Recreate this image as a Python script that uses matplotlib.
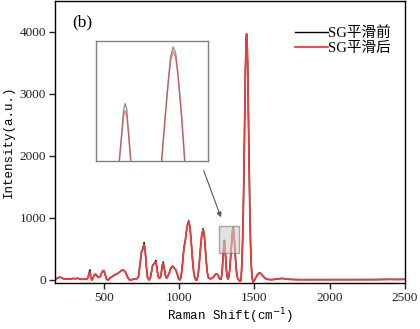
import matplotlib
matplotlib.use("Agg")
import matplotlib.pyplot as plt
from matplotlib.patches import Rectangle

# Raman shift (cm^-1) and SG-smoothed intensity
shift = [175, 190, 205, 220, 235, 250, 265, 280, 295, 310, 325, 340, 355, 370, 385,
         395, 400, 407, 413, 420, 428, 436, 444, 452, 460, 468, 476, 484, 492, 500,
         508, 516, 524, 532, 540, 550, 560, 570, 584, 595, 605, 615, 628, 640, 650,
         660, 672, 685, 700, 710, 720, 730, 740, 750, 758, 767, 775, 782, 790, 800,
         808, 816, 824, 832, 840, 845, 852, 860, 867, 875, 882, 888, 894, 900, 908,
         916, 925, 935, 945, 956, 965, 978, 988, 996, 1004, 1012, 1020, 1027, 1033, 1040,
         1048, 1056, 1064, 1072, 1080, 1088, 1096, 1104, 1112, 1118, 1126, 1134, 1142, 1150, 1159,
         1166, 1173, 1180, 1187, 1195, 1205, 1215, 1225, 1235, 1243, 1250, 1257, 1264, 1270, 1277,
         1282, 1286, 1290, 1293, 1296, 1298, 1300, 1302, 1304, 1307, 1310, 1314, 1318, 1322, 1325,
         1330, 1335, 1340, 1344, 1348, 1352, 1355, 1358, 1361, 1364, 1368, 1372, 1376, 1380, 1385,
         1390, 1395, 1402, 1408, 1412, 1416, 1420, 1425, 1430, 1435, 1440, 1445, 1448, 1450, 1455,
         1460, 1465, 1470, 1475, 1480, 1485, 1490, 1495, 1500, 1510, 1520, 1530, 1536, 1545, 1555,
         1565, 1575, 1590, 1610, 1630, 1650, 1670, 1685, 1700, 1720, 1750, 1800, 1900, 2000, 2100,
         2200, 2300, 2350, 2400, 2450, 2500]
smoothed = [5, 30, 45, 35, 15, 10, 20, 15, 25, 20, 28, 15, 10, 12, 10,
            40, 100, 130, 40, 0, 30, 80, 95, 70, 50, 40, 60, 110, 145, 150,
            90, 20, 0, 10, 30, 50, 60, 80, 95, 110, 130, 150, 160, 140, 90,
            30, 0, 5, 15, 20, 20, 60, 250, 456, 500, 575, 450, 220, 40, 0,
            30, 130, 240, 260, 285, 295, 200, 60, 25, 40, 130, 240, 270, 200, 80,
            30, 60, 120, 190, 225, 200, 160, 90, 20, 0, 40, 200, 400, 540, 620,
            780, 900, 940, 850, 620, 350, 140, 30, 0, 0, 80, 280, 520, 720, 817,
            740, 540, 300, 120, 30, 20, 25, 40, 70, 95, 100, 80, 40, 15, 10,
            60, 150, 300, 430, 530, 590, 615, 600, 540, 430, 310, 160, 70, 25, 15,
            60, 140, 300, 430, 580, 720, 800, 832, 810, 740, 600, 430, 280, 160, 70,
            20, 0, -15, -20, 40, 220, 480, 950, 1650, 2520, 3350, 3880, 3970, 3940, 3500,
            2700, 1800, 1050, 520, 200, 40, -30, -25, -5, 40, 85, 110, 115, 100, 70,
            40, 20, 10, 5, 8, 15, 22, 25, 20, 12, 8, 5, 5, 5, 5,
            5, 6, 8, 10, 8, 10]
# raw (before smoothing) differs only at peak tips
raw_tips = {407: 165, 767: 605, 845: 315, 894: 292, 1064: 955, 1159: 830,
            1298: 612, 1300: 642, 1302: 622, 1355: 815, 1358: 848, 1361: 826}
raw = [raw_tips.get(x, y) for x, y in zip(shift, smoothed)]

x_ticks = [500, 1000, 1500, 2000, 2500]
y_ticks = [0, 1000, 2000, 3000, 4000]
zoom_x = (1265, 1400)
zoom_y = (432, 870)

RED = "#ee3b3b"
CJK = ["Liberation Serif", "Noto Sans CJK SC"]

fig = plt.figure(figsize=(4.2, 3.29), dpi=100)
ax = fig.add_axes([0.131, 0.140, 0.833, 0.857])
ax.plot(shift, raw, color="black", lw=1.0, label="SG平滑前")
ax.plot(shift, smoothed, color=RED, lw=1.3, label="SG平滑后")
ax.set_xlim(175, 2500)
ax.set_ylim(-48, 4500)
ax.set_xticks(x_ticks)
ax.set_yticks(y_ticks)
ax.tick_params(direction="out", length=4, width=1, labelsize=9.5, colors="#222222",
               top=False, right=False, pad=2.5)
for lab in ax.get_xticklabels() + ax.get_yticklabels():
    lab.set_family("Liberation Serif")
for s in ax.spines.values():
    s.set_linewidth(1.0)
ax.set_xlabel("Raman Shift(cm$^{-1}$)", family="Liberation Mono", fontsize=9, labelpad=2)
ax.set_ylabel("Intensity(a.u.)", family="Liberation Mono", fontsize=9, labelpad=3)
ax.text(0.048, 0.925, "(b)", transform=ax.transAxes, family="Liberation Serif",
        fontsize=12.5, va="center", ha="left")

leg = ax.legend(loc="upper right", bbox_to_anchor=(0.985, 0.94), frameon=False,
                prop={"family": CJK, "size": 10.5}, handlelength=2.3,
                handletextpad=0.0, labelspacing=0.1, borderaxespad=0.2)

rect = Rectangle((zoom_x[0], zoom_y[0]), zoom_x[1] - zoom_x[0], zoom_y[1] - zoom_y[0],
                 facecolor="#cfcfcf", edgecolor="#707070", alpha=0.6, lw=1.0, zorder=5)
ax.add_patch(rect)
ax.annotate("", xy=(1284, 968), xytext=(1157, 1806),
            arrowprops=dict(arrowstyle="-|>", color="#555555", lw=0.8,
                            mutation_scale=7))

ins = fig.add_axes([0.2286, 0.5106, 0.2667, 0.3647])
ins.plot(shift, raw, color="#777777", lw=1.0, alpha=0.8)
ins.plot(shift, smoothed, color=RED, lw=1.0, alpha=0.6)
ins.set_xlim(*zoom_x)
ins.set_ylim(*zoom_y)
ins.set_xticks([])
ins.set_yticks([])
for s in ins.spines.values():
    s.set_color("#808080")
    s.set_linewidth(1.0)

fig.savefig("out.png", dpi=100)
